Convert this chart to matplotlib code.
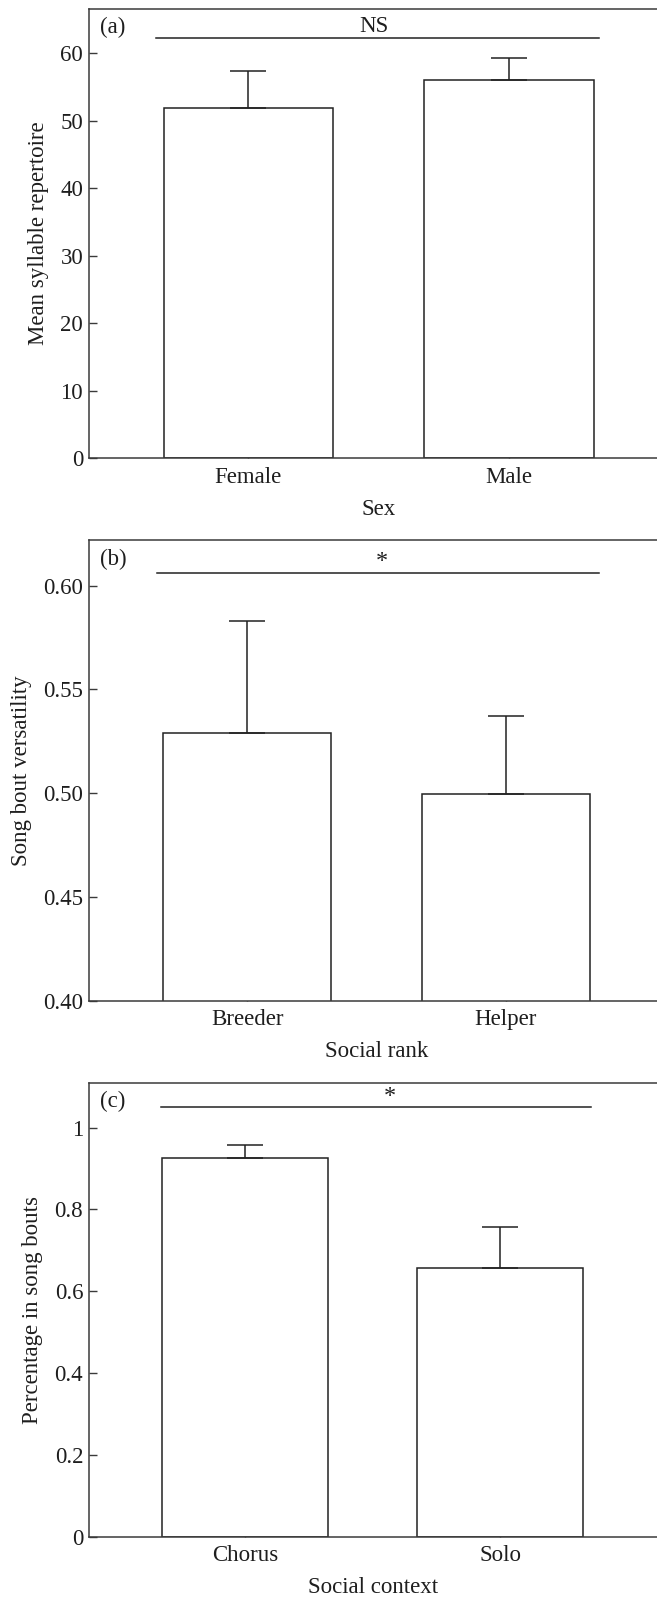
import matplotlib
matplotlib.use("Agg")
import matplotlib.pyplot as plt
import numpy as np

plt.rcParams['font.family'] = ['Liberation Serif', 'DejaVu Serif']

# ---- data ----
sex_cats = ["Female", "Male"]
sex_means = [51.9, 56.0]
sex_err = [5.5, 3.3]

rank_cats = ["Breeder", "Helper"]
rank_means = [0.529, 0.4995]
rank_err = [0.054, 0.0375]

context_cats = ["Chorus", "Solo"]
context_means = [0.925, 0.656]
context_err = [0.033, 0.100]

panels = [
    dict(cats=sex_cats, means=sex_means, err=sex_err, tag="(a)", sig="NS",
         xlabel="Sex", ylabel="Mean syllable repertoire",
         ylim=(0, 66.6), yticks=[0, 10, 20, 30, 40, 50, 60],
         yticklabels=["0", "10", "20", "30", "40", "50", "60"],
         line_y=62.3, line_x=(-0.355, 1.345), sig_x=0.482, sig_y=64.0,
         rect=[88.7, 8.7, 580.0, 449.6]),
    dict(cats=rank_cats, means=rank_means, err=rank_err, tag="(b)", sig="*",
         xlabel="Social rank", ylabel="Song bout versatility",
         ylim=(0.40, 0.622), yticks=[0.40, 0.45, 0.50, 0.55, 0.60],
         yticklabels=["0.40", "0.45", "0.50", "0.55", "0.60"],
         line_y=0.606, line_x=(-0.349, 1.361), sig_x=0.523, sig_y=0.6065,
         rect=[88.7, 540.0, 575.4, 460.7]),
    dict(cats=context_cats, means=context_means, err=context_err, tag="(c)", sig="*",
         xlabel="Social context", ylabel="Percentage in song bouts",
         ylim=(0, 1.11), yticks=[0, 0.2, 0.4, 0.6, 0.8, 1.0],
         yticklabels=["0", "0.2", "0.4", "0.6", "0.8", "1"],
         line_y=1.05, line_x=(-0.329, 1.355), sig_x=0.567, sig_y=1.051,
         rect=[88.7, 1082.7, 568.0, 454.0]),
]

W, H = 657, 1597
fig = plt.figure(figsize=(W / 100, H / 100), dpi=100)

spine_col = "#3a3a3a"
txt_col = "#1e1e1e"
fs = 16.5

for p in panels:
    l, t, w, h = p["rect"]
    ax = fig.add_axes([l / W, 1 - (t + h) / H, w / W, h / H])
    x = np.arange(len(p["cats"]))
    ax.bar(x, p["means"], width=0.65, facecolor="white", edgecolor="#222222",
           linewidth=1.1, zorder=2)
    ax.errorbar(x, p["means"], yerr=[np.zeros(len(x)), p["err"]], fmt="none",
                ecolor="#222222", elinewidth=1.1, capsize=13, capthick=1.1, zorder=3)
    ax.set_xlim(-0.613, 1.613)
    ax.set_ylim(*p["ylim"])
    ax.set_yticks(p["yticks"])
    ax.set_yticklabels(p["yticklabels"])
    ax.set_xticks(x)
    ax.set_xticklabels(p["cats"])
    ax.tick_params(axis="both", direction="in", length=6, width=1, color=spine_col,
                   labelsize=fs, labelcolor=txt_col)
    ax.tick_params(axis="y", pad=4)
    ax.tick_params(axis="x", pad=6)
    ax.tick_params(right=False, top=False)
    for s in ["left", "bottom", "top"]:
        ax.spines[s].set_color(spine_col)
        ax.spines[s].set_linewidth(1.1)
    ax.spines["right"].set_visible(False)
    ax.set_xlabel(p["xlabel"], fontsize=fs, color=txt_col, labelpad=8)
    ax.set_ylabel(p["ylabel"], fontsize=fs, color=txt_col, labelpad=8)
    ax.plot(p["line_x"], [p["line_y"], p["line_y"]], color="#222222", lw=1.1,
            clip_on=False, zorder=4)
    ax.text(p["sig_x"], p["sig_y"], p["sig"], ha="center",
            va="bottom" if p["sig"] == "*" else "center",
            fontsize=fs if p["sig"] != "*" else fs + 1, color=txt_col)
    ax.text(0.02, 0.958, p["tag"], transform=ax.transAxes, ha="left", va="center",
            fontsize=fs, color=txt_col)

fig.savefig("out.png", dpi=100)
